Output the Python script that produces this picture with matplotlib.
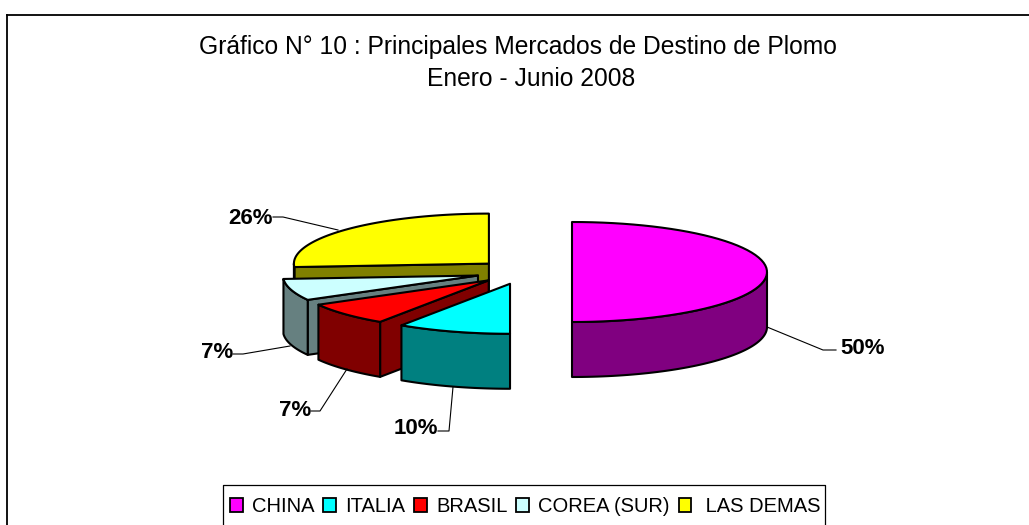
import numpy as np
import matplotlib
matplotlib.use("Agg")
import matplotlib.pyplot as plt
from matplotlib.patches import Patch, Polygon

plt.rcParams['font.family'] = ['Liberation Sans', 'DejaVu Sans']

title_lines = ["Gráfico N° 10 : Principales Mercados de Destino de Plomo", "Enero - Junio 2008"]
markets = ["CHINA", "ITALIA", "BRASIL", "COREA (SUR)", " LAS DEMAS"]
shares = [50, 9.4, 7.5, 7, 26.1]
share_labels = ["50%", "10%", "7%", "7%", "26%"]
top_colors = ["#FF00FF", "#00FFFF", "#FF0000", "#CCFFFF", "#FFFF00"]
side_colors = ["#800080", "#008080", "#800000", "#668080", "#808000"]

# pie geometry in pixels
CX, CY = 524, 272
RX, RY = 195, 50
DEPTH = 55
EXPLODE = 48

# label position and leader line for each slice
label_pos = [(840, 349), (438, 429), (311, 411), (233, 353), (273, 218)]
leaders = [
    [(767, 327), (823, 350), (836, 350)],
    [(453, 387), (449, 431), (438, 431)],
    [(347, 369), (320, 411), (311, 411)],
    [(290, 346), (243, 354), (233, 354)],
    [(338, 230), (283, 217), (273, 217)],
]


def rim(cx, cy, a1, a2, n=60):
    t = np.radians(np.linspace(a1, a2, n))
    return np.column_stack([cx + RX * np.sin(t), cy - RY * np.cos(t)])


def extrude(pts):
    low = pts + [0, DEPTH]
    return np.vstack([pts, low[::-1]])


fig = plt.figure(figsize=(10.29, 5.25), dpi=100)
ax = fig.add_axes([0, 0, 1, 1])
ax.set_xlim(0, 1029)
ax.set_ylim(525, 0)
ax.axis('off')

# frame: only top and left show in the picture
ax.plot([7, 1029], [15, 15], color='black', lw=1.3)
ax.plot([7, 7], [15, 525], color='black', lw=1.3)

ax.text(518, 54, title_lines[0], ha='center', va='baseline', fontsize=17.7, color='black')
ax.text(531, 86, title_lines[1], ha='center', va='baseline', fontsize=17.7, color='black')

edges = np.cumsum([0] + shares) * 3.6
slices = []
for i in range(len(shares)):
    a1, a2 = edges[i], edges[i + 1]
    mid = np.radians((a1 + a2) / 2)
    cx = CX + EXPLODE * np.sin(mid)
    cy = CY - EXPLODE * (RY / RX) * np.cos(mid)
    slices.append((i, a1, a2, cx, cy))

# back to front so nearer slices cover the others
for i, a1, a2, cx, cy in [slices[k] for k in (4, 3, 2, 1, 0)]:
    arc = rim(cx, cy, a1, a2)
    style = dict(edgecolor='black', lw=1.5, joinstyle='round')
    # cut face on the left half looks towards the viewer
    if np.sin(np.radians(a1)) < -0.01:
        cut = np.array([[cx, cy], arc[0]])
        ax.add_patch(Polygon(extrude(cut), facecolor=side_colors[i], **style))
    lo, hi = max(a1, 90), min(a2, 270)
    if hi > lo:
        ax.add_patch(Polygon(extrude(rim(cx, cy, lo, hi)), facecolor=side_colors[i], **style))
    ax.add_patch(Polygon(np.vstack([[cx, cy], arc]), facecolor=top_colors[i], **style))

for i, label in enumerate(share_labels):
    xs, ys = zip(*leaders[i])
    ax.plot(xs, ys, color='black', lw=0.8)
    x, y = label_pos[i]
    ax.text(x, y, label, ha='left' if i == 0 else 'right', va='center', fontsize=16,
            fontweight='bold', color='black')

# legend box runs off the bottom of the picture
ax.plot([223, 223, 825, 825], [525, 485, 485, 525], color='black', lw=0.9)
handles = [Patch(facecolor=c, edgecolor='black', lw=1.3) for c in top_colors]
ax.legend(handles, markets, ncol=5, loc='center left', bbox_to_anchor=(230, 506.5),
          bbox_transform=ax.transData, borderaxespad=0, borderpad=0, fontsize=14.5,
          frameon=False, handlelength=0.63, handleheight=0.63, handletextpad=0.45,
          columnspacing=0.45)

fig.savefig("out.png", dpi=100)
